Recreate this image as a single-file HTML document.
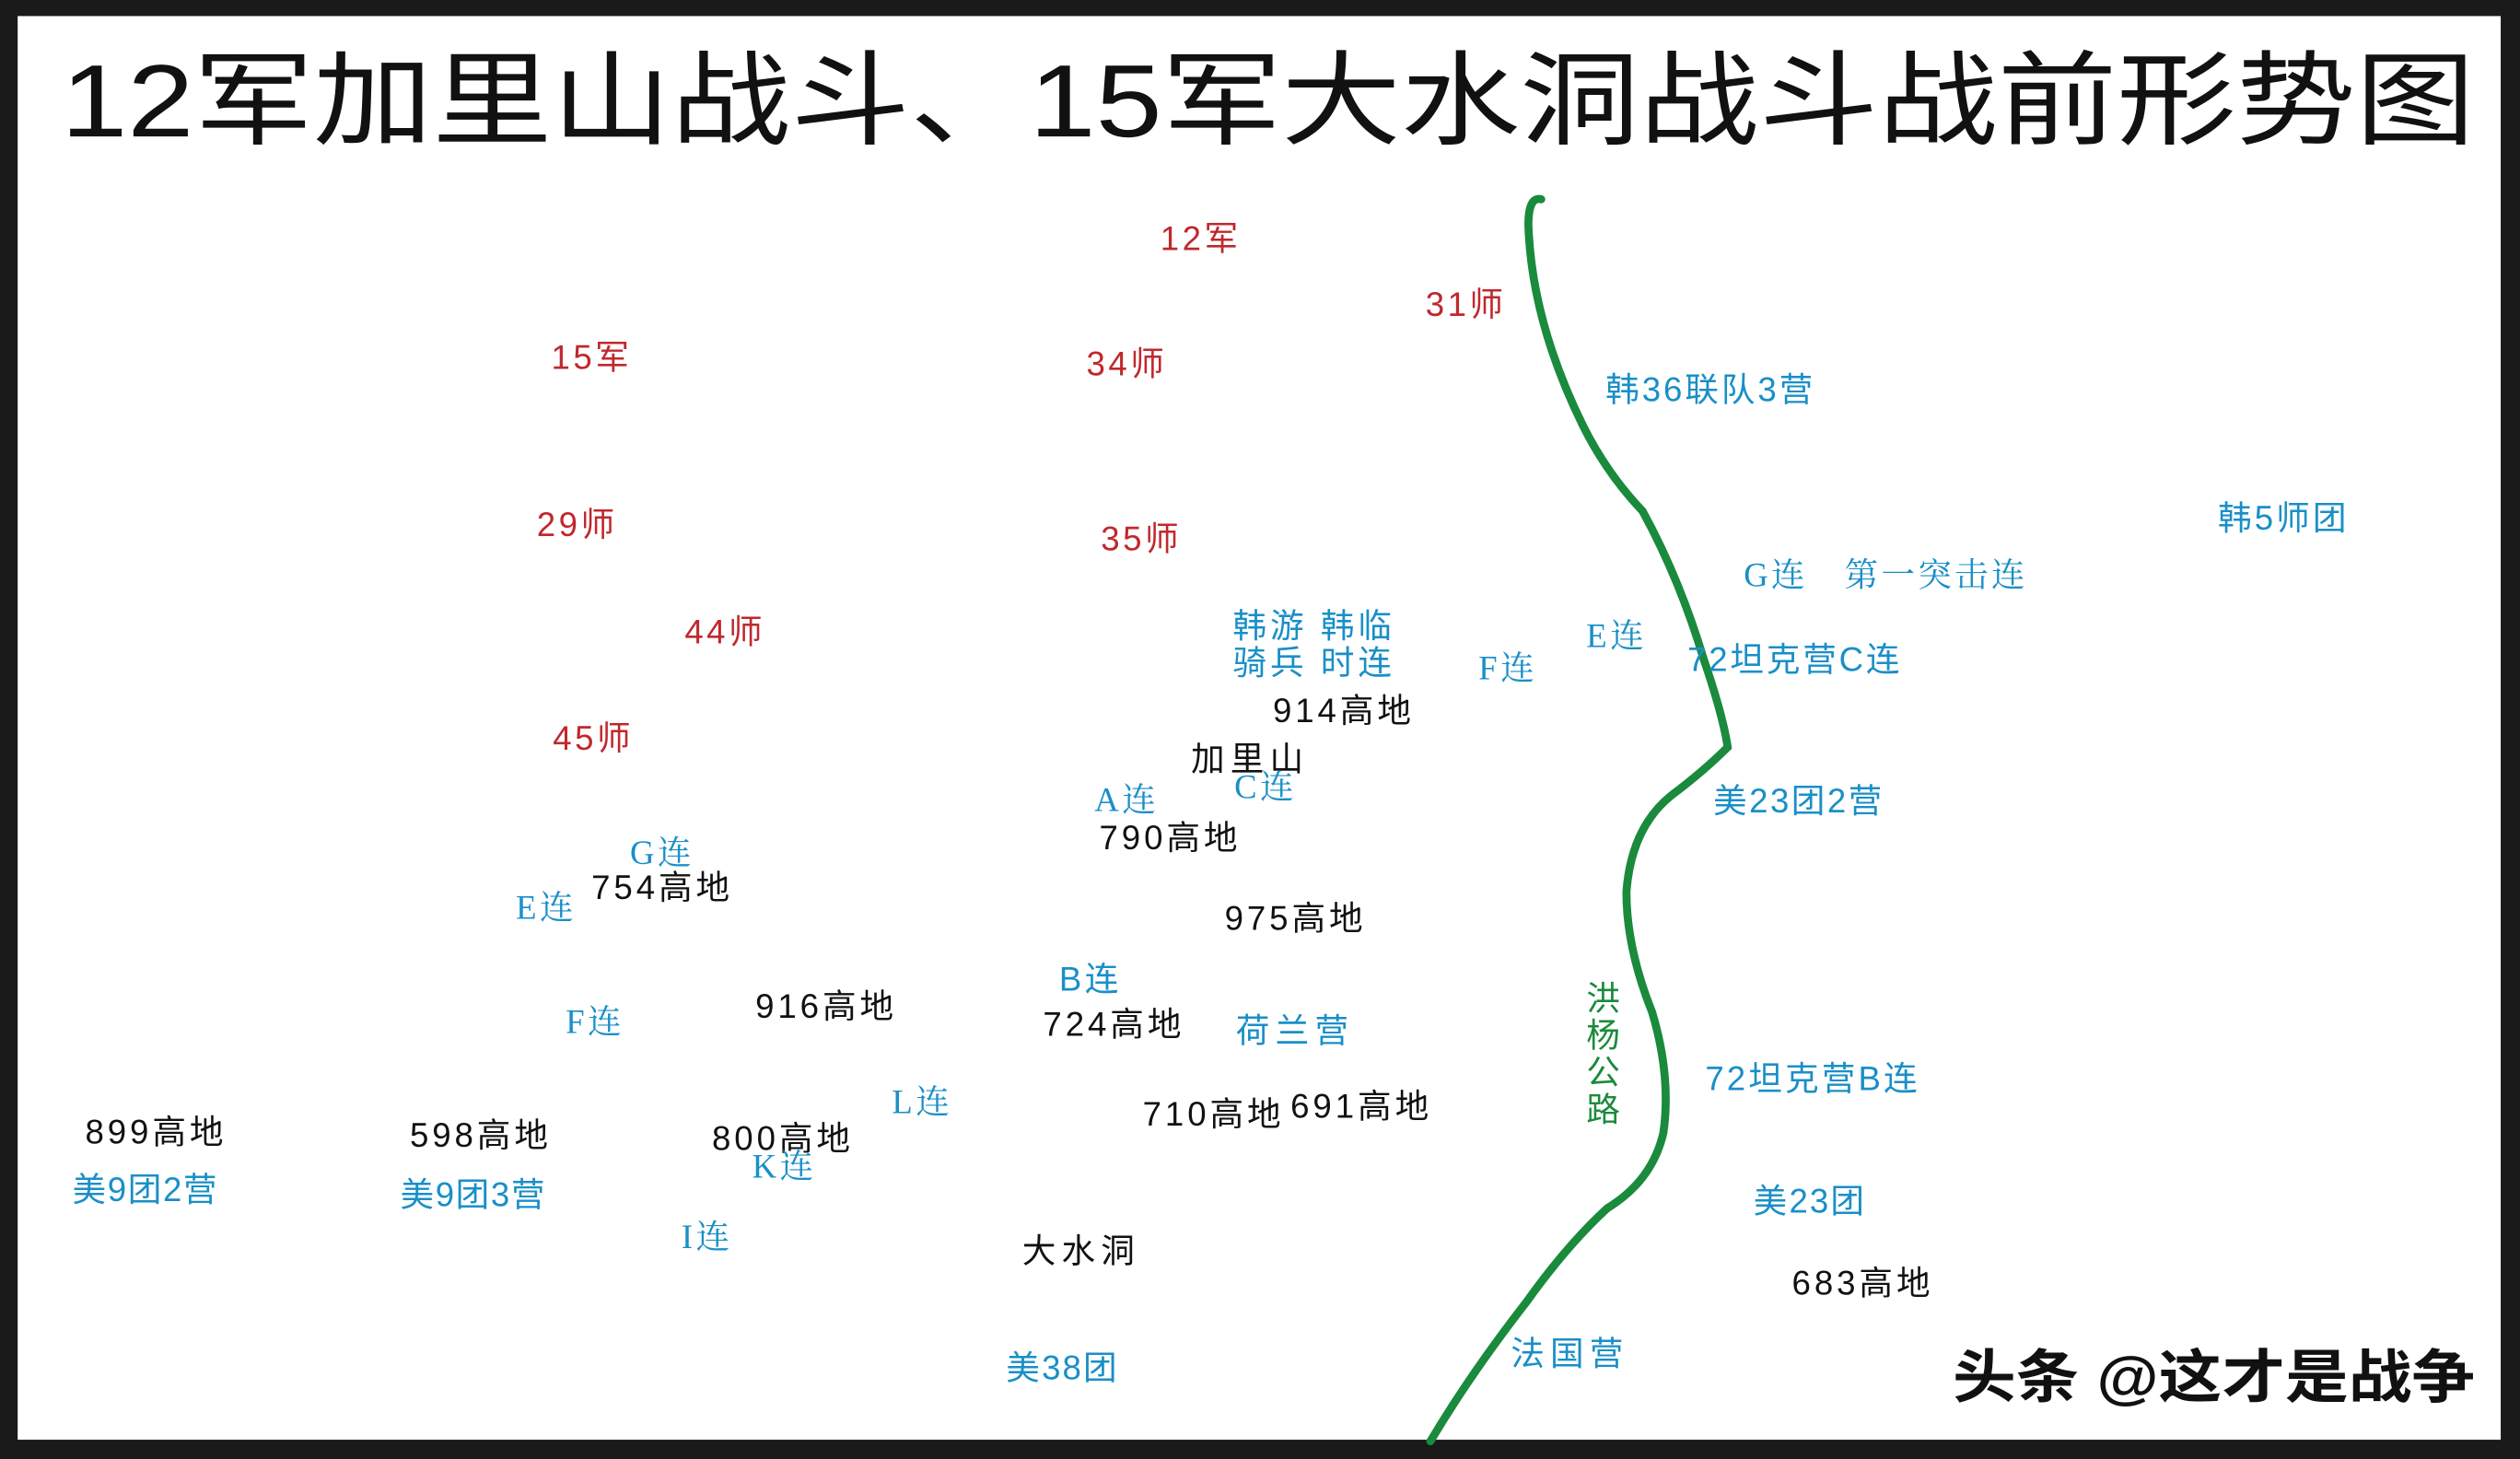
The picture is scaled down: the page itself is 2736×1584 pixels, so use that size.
<!DOCTYPE html>
<html><head><meta charset="utf-8"><style>
html,body{margin:0;padding:0;background:#1a1a1a;}
svg{display:block;}
text{font-family:"Liberation Sans","Noto Sans CJK SC",sans-serif;font-size:21px;letter-spacing:2px;dominant-baseline:middle;}
.r{fill:#c0282d}.b{fill:#1a8fc7}.k{fill:#111}.g{fill:#1a8a3c}
.s{font-family:"Liberation Serif","Noto Serif CJK SC",serif;}
</style></head><body>
<svg width="2736" height="1584" viewBox="0 0 1568 908" preserveAspectRatio="none" xmlns="http://www.w3.org/2000/svg">
<rect x="0" y="0" width="1568" height="908" fill="#1a1a1a"/>
<rect x="11" y="10" width="1545" height="886" fill="#fff"/>
<text x="38" y="68" class="k" style="font-size:64px;letter-spacing:0" textLength="1502" lengthAdjust="spacingAndGlyphs">12军加里山战斗、15军大水洞战斗战前形势图</text>
<path d="M959 124 Q951 122 951 140 Q953 200 985 265 Q1000 295 1022 318 Q1045 360 1060 410 Q1072 445 1075 465 Q1060 480 1040 495 Q1015 515 1012 555 Q1012 590 1028 630 Q1040 670 1035 705 Q1028 735 1000 752 Q975 775 950 810 Q915 855 890 897" fill="none" stroke="#1a8a3c" stroke-width="5" stroke-linecap="round"/>
<g transform="translate(0,2)">
<text x="722" y="148" class="r">12军</text>
<text x="887" y="189" class="r">31师</text>
<text x="343" y="222" class="r">15军</text>
<text x="676" y="226" class="r">34师</text>
<text x="999" y="242" class="b" textLength="131">韩36联队3营</text>
<text x="1380" y="322" class="b" textLength="82">韩5师团</text>
<text x="334" y="326" class="r">29师</text>
<text x="685" y="335" class="r">35师</text>
<text x="1085" y="358" class="b s" textLength="177">G连　第一突击连</text>
<text x="767" y="389" class="b" textLength="101">韩游 韩临</text>
<text x="767" y="412" class="b" textLength="101">骑兵 时连</text>
<text x="426" y="393" class="r">44师</text>
<text x="987" y="396" class="b s">E连</text>
<text x="920" y="416" class="b s">F连</text>
<text x="1050" y="410" class="b" textLength="134">72坦克营C连</text>
<text x="792" y="442" class="k" textLength="88">914高地</text>
<text x="741" y="472" class="k" textLength="72">加里山</text>
<text x="344" y="459" class="r">45师</text>
<text x="681" y="498" class="b s">A连</text>
<text x="768" y="490" class="b s">C连</text>
<text x="1066" y="498" class="b" textLength="107">美23团2营</text>
<text x="684" y="521" class="k" textLength="88">790高地</text>
<text x="392" y="531" class="b s">G连</text>
<text x="368" y="552" class="k" textLength="88">754高地</text>
<text x="321" y="565" class="b s">E连</text>
<text x="762" y="571" class="k" textLength="88">975高地</text>
<text x="659" y="609" class="b">B连</text>
<text x="470" y="626" class="k" textLength="88">916高地</text>
<text x="649" y="637" class="k" textLength="88">724高地</text>
<text x="769" y="641" class="b" textLength="72">荷兰营</text>
<text x="352" y="636" class="b s">F连</text>
<text x="987" y="621" class="g">洪</text>
<text x="987" y="644" class="g">杨</text>
<text x="987" y="667" class="g">公</text>
<text x="987" y="690" class="g">路</text>
<text x="1061" y="671" class="b" textLength="134">72坦克营B连</text>
<text x="555" y="686" class="b s">L连</text>
<text x="711" y="693" class="k" textLength="88">710高地</text>
<text x="803" y="688" class="k" textLength="88">691高地</text>
<text x="53" y="704" class="k" textLength="88">899高地</text>
<text x="255" y="706" class="k" textLength="88">598高地</text>
<text x="443" y="708" class="k" textLength="88">800高地</text>
<text x="468" y="726" class="b s">K连</text>
<text x="45" y="740" class="b" textLength="92">美9团2营</text>
<text x="249" y="743" class="b" textLength="92">美9团3营</text>
<text x="1091" y="747" class="b" textLength="71">美23团</text>
<text x="424" y="770" class="b s">I连</text>
<text x="636" y="778" class="k" textLength="72">大水洞</text>
<text x="1115" y="798" class="k" textLength="88">683高地</text>
<text x="940" y="842" class="b" textLength="72">法国营</text>
<text x="626" y="851" class="b" textLength="71">美38团</text>
<text x="1215" y="858" class="k" style="font-size:36px;font-weight:bold;letter-spacing:0" textLength="325" lengthAdjust="spacingAndGlyphs">头条 @这才是战争</text>
</g>
</svg>
</body></html>
